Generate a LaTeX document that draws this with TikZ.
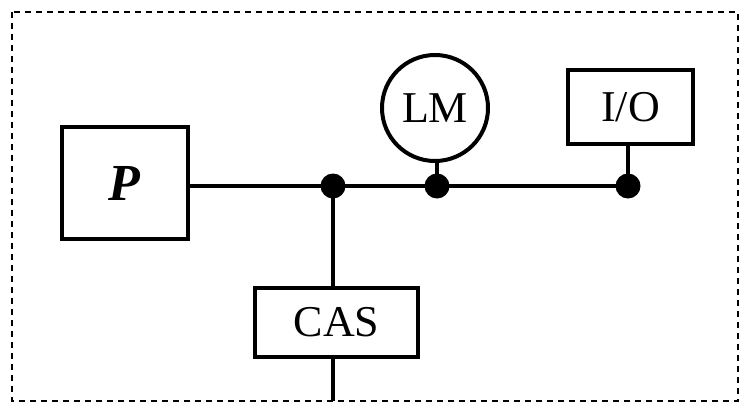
\documentclass[tikz,border=0pt]{standalone}
\usepackage{fontspec}
\setmainfont{Liberation Serif}
\begin{document}
\begin{tikzpicture}[x=1pt,y=-1pt,
  box/.style={draw,line width=4pt,inner sep=0pt,font=\fontsize{44}{48}\selectfont},
  bus/.style={line width=4.5pt},
  junc/.style={circle,fill=black,inner sep=0pt,minimum size=25pt}]
\useasboundingbox (0,0) rectangle (741,404);
\draw[line width=2.2pt,dash pattern=on 6pt off 5pt] (12,12) rectangle (738,401);
\node[box,minimum width=126pt,minimum height=112pt,font=\fontsize{52}{56}\selectfont] (P) at (125,183) {\textbf{\textit{P}}};
\node[box,minimum width=163pt,minimum height=69pt] (CAS) at (336.5,322.5) {CAS};
\node[box,circle,minimum size=106pt] (LM) at (435,108) {LM};
\node[box,minimum width=125pt,minimum height=74pt] (IO) at (630.5,107) {I/O};
\node[junc] (j1) at (333,186) {};
\node[junc] (j2) at (437,186) {};
\node[junc] (j3) at (628,186) {};
\coordinate (out) at (333,401);
\draw[bus] (P.east |- j1) -- (j1.center) -- (j2.center) -- (j3.center);
\draw[bus] (j1.center) -- (j1 |- CAS.north);
\draw[bus] (j1 |- CAS.south) -- (out);
\draw[bus] (j2.center) -- (j2 |- LM.south);
\draw[bus] (j3.center) -- (j3 |- IO.south);
\end{tikzpicture}
\end{document}
